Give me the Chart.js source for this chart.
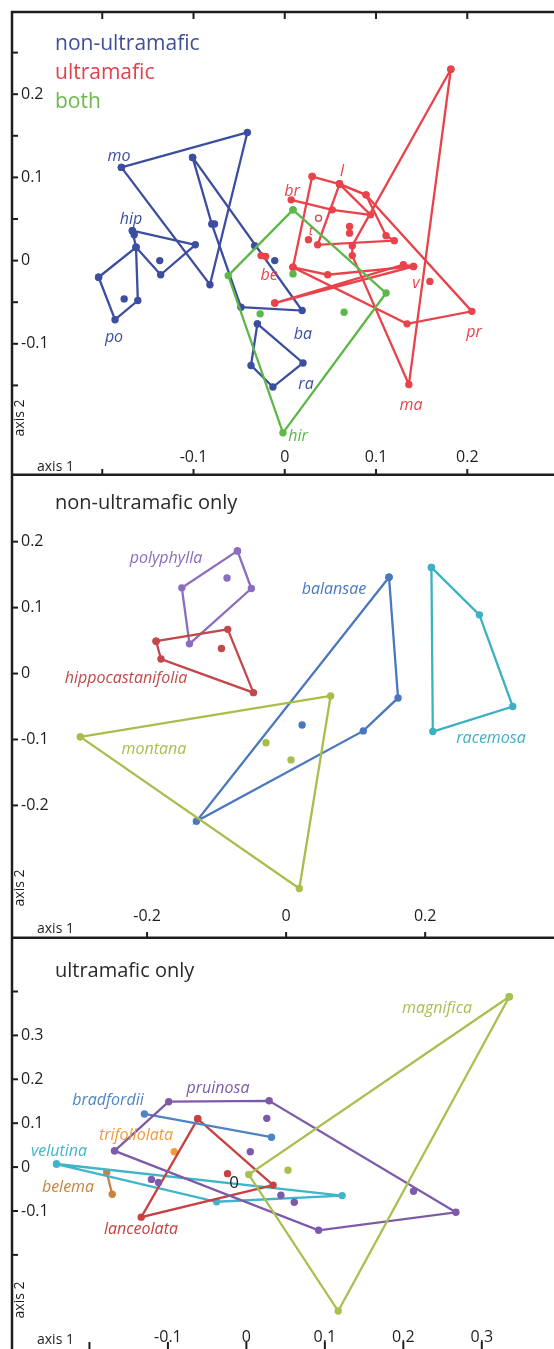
<!DOCTYPE html>
<html><head><meta charset="utf-8">
<script src="https://cdn.jsdelivr.net/npm/chart.js@4.4.1/dist/chart.umd.min.js"></script>
<style>
html,body{margin:0;padding:0;background:#fff;width:554px;height:1349px;overflow:hidden;}
canvas{position:absolute;left:0;}
</style></head><body>
<canvas id="c1" width="554" height="476" style="top:0px;width:554px;height:476px"></canvas>
<canvas id="c2" width="554" height="463" style="top:476px;width:554px;height:463px"></canvas>
<canvas id="c3" width="554" height="410" style="top:939px;width:554px;height:410px"></canvas>
<script>
// ---------- Panel 1: non-ultramafic / ultramafic / both ----------
const p1_mo  = [[-0.179,0.112],[-0.041,0.154],[-0.082,-0.029]];
const p1_ba  = [[-0.101,0.124],[-0.080,0.044],[-0.048,-0.056],[0.019,-0.060]];
const p1_hip = [[-0.167,0.036],[-0.098,0.019],[-0.136,-0.017],[-0.163,0.016]];
const p1_po  = [[-0.204,-0.020],[-0.163,0.016],[-0.161,-0.048],[-0.186,-0.071]];
const p1_ra  = [[-0.030,-0.076],[0.020,-0.123],[-0.013,-0.152],[-0.037,-0.126]];
const p1_bluePts = [[-0.137,0.000],[-0.176,-0.046],[-0.011,0.000],[-0.077,0.044],[-0.165,0.031],[-0.033,0.018]];
const p1_hir = [[0.009,0.061],[0.111,-0.039],[-0.002,-0.207],[-0.062,-0.018]];
const p1_greenPts = [[-0.027,-0.064],[0.065,-0.062],[0.009,-0.016]];
const p1_pr  = [[0.030,0.101],[0.060,0.092],[0.089,0.079],[0.205,-0.061],[0.134,-0.076],[0.009,-0.008]];
const p1_l   = [[0.060,0.092],[0.036,0.019],[0.120,0.024],[0.111,0.030],[0.089,0.079]];
const p1_br  = [[0.007,0.073],[0.052,0.061],[0.094,0.055],[0.060,0.092]];
const p1_ma  = [[0.182,0.230],[0.074,0.018],[0.074,0.006],[0.136,-0.149]];
const p1_v   = [[-0.011,-0.051],[0.130,-0.005],[0.141,-0.007]];
const p1_v2  = [[0.009,-0.008],[0.047,-0.017],[0.141,-0.007]];
const p1_redPts = [[0.071,0.041],[0.071,0.033],[0.026,0.025],[-0.026,0.006],[-0.021,0.005],[0.159,-0.025]];
const p1_redOpen = [[0.037,0.051]];
const p1_yTicks = [-0.15,-0.1,-0.05,0,0.05,0.1,0.15,0.2,0.25];
const p1_yLabelVals = [0.2,0.1,0,-0.1];
const p1_yLabels = ['0.2','0.1','0','-0.1'];
const p1_xTicks = [-0.2,-0.1,0,0.1,0.2];
const p1_xLabelVals = [-0.1,0,0.1,0.2];
const p1_xLabels = ['-0.1','0','0.1','0.2'];

// ---------- Panel 2: non-ultramafic only ----------
const p2_polyphylla = [[-0.070,0.186],[-0.050,0.129],[-0.139,0.045],[-0.150,0.130]];
const p2_polyphyllaPts = [[-0.085,0.145]];
const p2_hippo = [[-0.187,0.049],[-0.084,0.067],[-0.047,-0.029],[-0.180,0.022]];
const p2_hippoPts = [[-0.093,0.038]];
const p2_balansae = [[0.148,0.146],[0.161,-0.037],[0.111,-0.087],[-0.129,-0.224]];
const p2_balansaePts = [[0.023,-0.078]];
const p2_racemosa = [[0.209,0.161],[0.278,0.089],[0.326,-0.050],[0.211,-0.088]];
const p2_montana = [[-0.296,-0.096],[0.064,-0.034],[0.019,-0.326]];
const p2_montanaPts = [[-0.029,-0.105],[0.007,-0.131]];
const p2_yTicks = [0.2,0.1,0,-0.1,-0.2];
const p2_yLabels = ['0.2','0.1','0','-0.1','-0.2'];
const p2_xTicks = [-0.2,0,0.2];
const p2_xLabels = ['-0.2','0','0.2'];

// ---------- Panel 3: ultramafic only ----------
const p3_pruinosa = [[-0.168,0.037],[-0.099,0.149],[0.029,0.151],[0.267,-0.103],[0.092,-0.144]];
const p3_pruinosaPts = [[0.026,0.111],[0.005,0.035],[-0.121,-0.028],[-0.112,-0.035],[0.044,-0.064],[0.061,-0.080],[0.213,-0.055]];
const p3_bradfordii = [[-0.130,0.121],[0.032,0.068]];
const p3_lanceolata = [[-0.062,0.110],[0.034,-0.041],[-0.134,-0.114]];
const p3_lanceolataPts = [[-0.024,-0.015]];
const p3_velutina = [[-0.242,0.007],[0.122,-0.065],[-0.038,-0.079]];
const p3_belema = [[-0.178,-0.012],[-0.171,-0.062]];
const p3_trifoliolata = [[-0.092,0.035]];
const p3_magnifica = [[0.335,0.388],[0.003,-0.017],[0.117,-0.328]];
const p3_magnificaPts = [[0.053,-0.007]];
const p3_yTicks = [0.4,0.3,0.2,0.1,0,-0.1,-0.2];
const p3_yLabelVals = [0.3,0.2,0.1,0,-0.1];
const p3_yLabels = ['0.3','0.2','0.1','0','-0.1'];
const p3_xTicks = [-0.2,-0.1,0,0.1,0.2,0.3];
const p3_xLabelVals = [-0.1,0,0.1,0.2,0.3];
const p3_xLabels = ['-0.1','0','0.1','0.2','0.3'];

// ---------- helpers ----------
function ds(pts, color, o) {
  o = o || {};
  const arr = pts.map(p => ({x:p[0], y:p[1]}));
  if (o.closed) arr.push({x:pts[0][0], y:pts[0][1]});
  return {
    data: arr, showLine: o.line !== false, fill:false, tension:0,
    borderColor: color, backgroundColor: o.open ? '#fff' : color,
    pointBackgroundColor: o.open ? '#fff' : color, pointBorderColor: color,
    pointRadius: o.r || 3.7, pointBorderWidth: o.open ? 1.4 : 0, borderWidth: 2.3,
    pointHoverRadius: 0
  };
}
const FONT = '"Open Sans","Noto Sans",sans-serif';
const INK = '#1e1e1e';

function decor(d) {
  return { id:'decor', afterDatasetsDraw(chart) {
    const ctx = chart.ctx, xs = chart.scales.x, ys = chart.scales.y;
    const W = chart.width, H = chart.height;
    ctx.save();
    ctx.strokeStyle = INK; ctx.lineWidth = 2.5;
    ctx.beginPath(); ctx.moveTo(12, d.leftTop); ctx.lineTo(12, H); ctx.stroke();
    if (d.topLine) { ctx.beginPath(); ctx.moveTo(11, 12); ctx.lineTo(W, 12); ctx.stroke(); }
    if (d.bottomLine) { ctx.beginPath(); ctx.moveTo(11, H-1.2); ctx.lineTo(W, H-1.2); ctx.stroke(); }
    ctx.lineWidth = 2;
    d.yTicks.forEach(v => { const py = ys.getPixelForValue(v); ctx.beginPath(); ctx.moveTo(12, py); ctx.lineTo(18, py); ctx.stroke(); });
    if (d.xTopTicks) d.xTopTicks.forEach(v => { const px = xs.getPixelForValue(v); ctx.beginPath(); ctx.moveTo(px, 12); ctx.lineTo(px, 19); ctx.stroke(); });
    d.xBotTicks.forEach(v => { const px = xs.getPixelForValue(v); ctx.beginPath(); ctx.moveTo(px, H); ctx.lineTo(px, H-7); ctx.stroke(); });
    ctx.fillStyle = INK; ctx.font = '16px ' + FONT; ctx.textAlign = 'left'; ctx.textBaseline = 'middle';
    d.yLabelVals.forEach((v,i) => ctx.fillText(d.yLabels[i], 21, ys.getPixelForValue(v)));
    ctx.textAlign = 'center';
    d.xLabelVals.forEach((v,i) => ctx.fillText(d.xLabels[i], xs.getPixelForValue(v), d.xLabelY));
    ctx.font = '14px ' + FONT; ctx.textAlign = 'left';
    ctx.fillText('axis 1', 37, d.axis1Y);
    ctx.save(); ctx.translate(20, d.axis2Y); ctx.rotate(-Math.PI/2); ctx.textAlign = 'center'; ctx.fillText('axis 2', 0, 0); ctx.restore();
    d.texts.forEach(t => {
      ctx.font = (t.it ? 'italic ' : '') + (t.sz || 16) + 'px ' + FONT;
      ctx.fillStyle = t.c; ctx.textAlign = t.al || 'center';
      ctx.fillText(t.s, t.x, t.y);
    });
    ctx.restore();
  }};
}
function makeChart(id, sc, datasets, d) {
  return new Chart(document.getElementById(id), {
    type:'scatter', data:{datasets},
    options:{ responsive:false, animation:false, events:[],
      layout:{padding:sc.pad},
      plugins:{legend:{display:false}, tooltip:{enabled:false}},
      scales:{ x:{type:'linear', min:sc.xmin, max:sc.xmax, display:false},
               y:{type:'linear', min:sc.ymin, max:sc.ymax, display:false} } },
    plugins:[decor(d)]
  });
}

// ---------- Panel 1 ----------
const B1 = '#3b4ea0', R1 = '#e8434b', G1 = '#5db749';
makeChart('c1', {pad:{left:12,top:12,right:0,bottom:0}, xmin:-0.2989, xmax:0.2902, ymin:-0.2536, ymax:0.2988}, [
  ds(p1_hir, G1, {closed:true}), ds(p1_greenPts, G1, {line:false}),
  ds(p1_pr, R1, {closed:true}), ds(p1_l, R1, {closed:true}), ds(p1_br, R1),
  ds(p1_ma, R1, {closed:true}), ds(p1_v, R1, {closed:true}), ds(p1_v2, R1),
  ds(p1_redPts, R1, {line:false}), ds(p1_redOpen, R1, {line:false, open:true, r:3}),
  ds(p1_mo, B1, {closed:true}), ds(p1_ba, B1, {closed:true}), ds(p1_hip, B1, {closed:true}),
  ds(p1_po, B1, {closed:true}), ds(p1_ra, B1, {closed:true}), ds(p1_bluePts, B1, {line:false})
], { leftTop:11, topLine:true, bottomLine:true, yTicks:p1_yTicks, yLabelVals:p1_yLabelVals, yLabels:p1_yLabels,
  xTopTicks:p1_xTicks, xBotTicks:p1_xTicks, xLabelVals:p1_xLabelVals, xLabels:p1_xLabels, xLabelY:457, axis1Y:467, axis2Y:418,
  texts:[
    {s:'non-ultramafic', x:55, y:44, c:'#3f4e98', sz:21, al:'left'},
    {s:'ultramafic', x:55, y:73, c:'#e2404b', sz:21, al:'left'},
    {s:'both', x:55, y:102, c:'#6ab94d', sz:21, al:'left'},
    {s:'mo', x:119, y:156, c:B1, it:true}, {s:'hip', x:131, y:219, c:B1, it:true},
    {s:'po', x:114, y:337, c:B1, it:true}, {s:'ba', x:303, y:334, c:B1, it:true},
    {s:'ra', x:306, y:384, c:B1, it:true}, {s:'hir', x:298, y:436, c:G1, it:true},
    {s:'br', x:292, y:191, c:R1, it:true}, {s:'l', x:342, y:171, c:R1, it:true},
    {s:'t', x:311, y:231, c:R1, it:true, sz:13}, {s:'be', x:269, y:275, c:R1, it:true},
    {s:'v', x:416, y:283, c:R1, it:true}, {s:'pr', x:474, y:332, c:R1, it:true},
    {s:'ma', x:411, y:405, c:R1, it:true}
  ]});

// ---------- Panel 2 ----------
const cPoly = '#8b6cbf', cHip = '#c3484d', cBal = '#4a78bf', cRac = '#3cb1c3', cMon = '#a8bd4c';
makeChart('c2', {pad:{left:12,top:0,right:0,bottom:0}, xmin:-0.3943, xmax:0.38, ymin:-0.3970, ymax:0.2940}, [
  ds(p2_montana, cMon, {closed:true}), ds(p2_montanaPts, cMon, {line:false}),
  ds(p2_balansae, cBal, {closed:true}), ds(p2_balansaePts, cBal, {line:false}),
  ds(p2_racemosa, cRac, {closed:true}),
  ds(p2_hippo, cHip, {closed:true}), ds(p2_hippoPts, cHip, {line:false}),
  ds(p2_polyphylla, cPoly, {closed:true}), ds(p2_polyphyllaPts, cPoly, {line:false})
], { leftTop:0, topLine:false, bottomLine:true, yTicks:p2_yTicks, yLabelVals:p2_yTicks, yLabels:p2_yLabels,
  xBotTicks:p2_xTicks, xLabelVals:p2_xTicks, xLabels:p2_xLabels, xLabelY:440, axis1Y:453, axis2Y:412,
  texts:[
    {s:'non-ultramafic only', x:55, y:27, c:'#2a2a2a', sz:20, al:'left'},
    {s:'polyphylla', x:166, y:82, c:cPoly, it:true}, {s:'hippocastanifolia', x:126, y:202, c:cHip, it:true},
    {s:'balansae', x:334, y:113, c:cBal, it:true}, {s:'racemosa', x:491, y:262, c:cRac, it:true},
    {s:'montana', x:154, y:273, c:cMon, it:true}
  ]});

// ---------- Panel 3 ----------
const cPru = '#7d5aa9', cBra = '#4d85c4', cLan = '#c8403f', cVel = '#3fb5cc', cBel = '#c8843c', cTri = '#f29a3c', cMag = '#a8c04f';
makeChart('c3', {pad:{left:12,top:0,right:0,bottom:0}, xmin:-0.2987, xmax:0.3873, ymin:-0.4060, ymax:0.5112}, [
  ds(p3_magnifica, cMag, {closed:true}), ds(p3_magnificaPts, cMag, {line:false}),
  ds(p3_pruinosa, cPru, {closed:true}), ds(p3_pruinosaPts, cPru, {line:false}),
  ds(p3_bradfordii, cBra),
  ds(p3_lanceolata, cLan, {closed:true}), ds(p3_lanceolataPts, cLan, {line:false}),
  ds(p3_velutina, cVel, {closed:true}),
  ds(p3_belema, cBel), ds(p3_trifoliolata, cTri, {line:false})
], { leftTop:0, topLine:false, bottomLine:false, yTicks:p3_yTicks, yLabelVals:p3_yLabelVals, yLabels:p3_yLabels,
  xBotTicks:p3_xTicks, xLabelVals:p3_xLabelVals, xLabels:p3_xLabels, xLabelY:398, axis1Y:401, axis2Y:361,
  texts:[
    {s:'ultramafic only', x:55, y:32, c:'#2a2a2a', sz:20, al:'left'},
    {s:'magnifica', x:437, y:69, c:cMag, it:true}, {s:'pruinosa', x:218, y:149, c:cPru, it:true},
    {s:'bradfordii', x:108, y:161, c:cBra, it:true}, {s:'trifoliolata', x:136, y:196, c:cTri, it:true},
    {s:'velutina', x:59, y:212, c:cVel, it:true}, {s:'belema', x:68, y:248, c:cBel, it:true},
    {s:'lanceolata', x:141, y:290, c:cLan, it:true},
    {s:'0', x:234, y:244, c:INK, sz:17}
  ]});
</script>
</body></html>
